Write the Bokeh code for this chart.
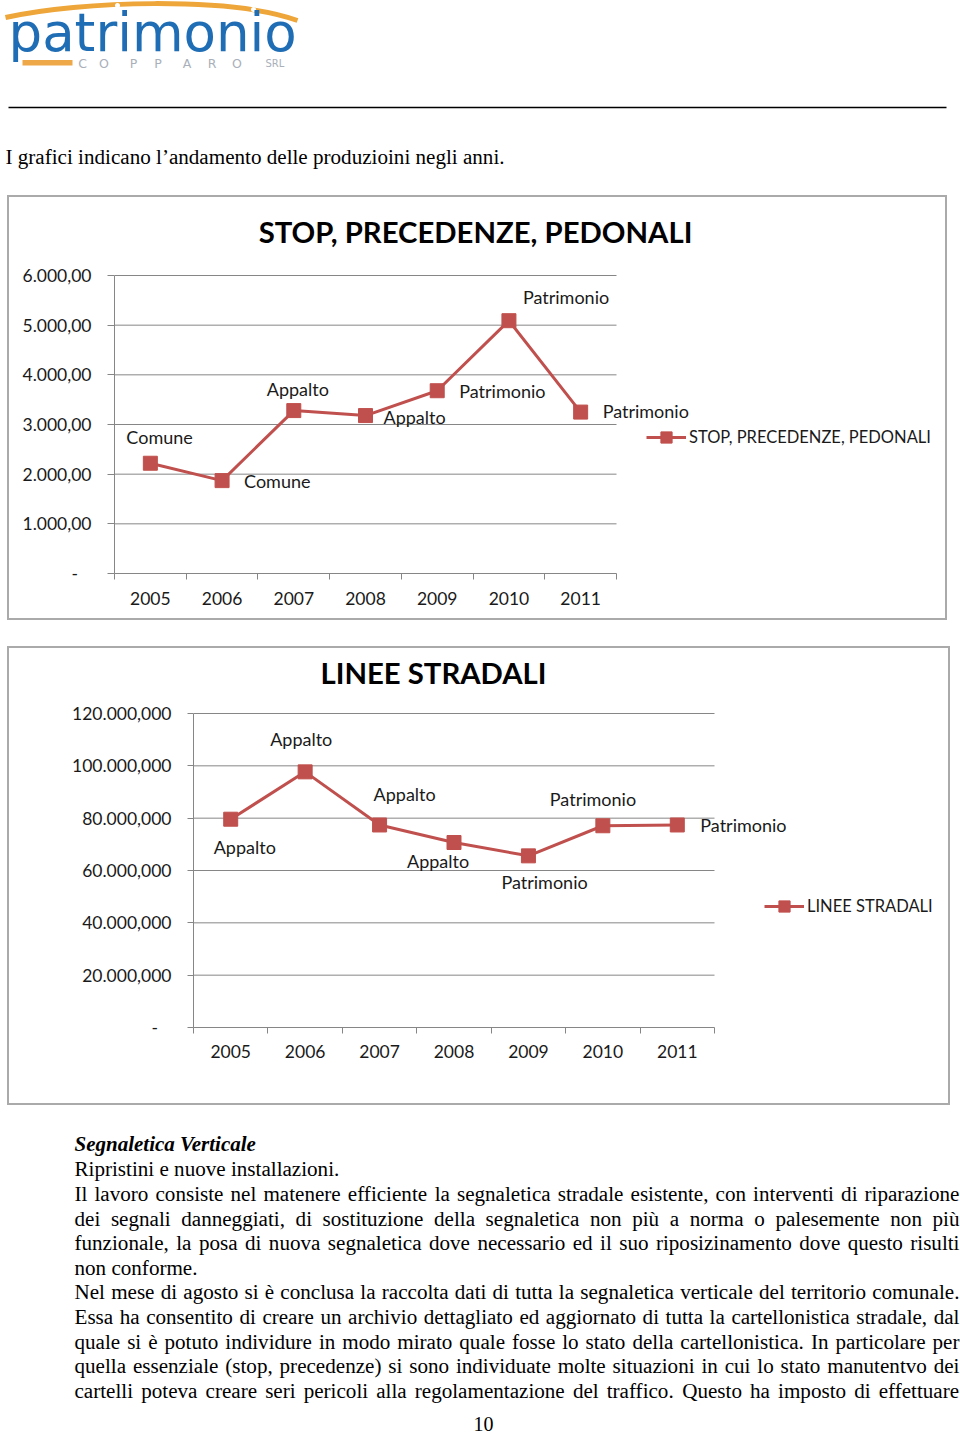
from bokeh.plotting import figure
from bokeh.models import (Range1d, FixedTicker, ColumnDataSource, LabelSet,
                          Legend, LegendItem, Spacer)
from bokeh.layouts import column, row
from bokeh.embed import file_html
from bokeh.resources import INLINE
from bokeh.core.properties import value

# ---------------- data ----------------
years = ["2005", "2006", "2007", "2008", "2009", "2010", "2011"]

stop_title = "STOP, PRECEDENZE, PEDONALI"
stop_values = [2220, 1870, 3280, 3180, 3680, 5090, 3250]
stop_point_labels = ["Comune", "Comune", "Appalto", "Appalto",
                     "Patrimonio", "Patrimonio", "Patrimonio"]
stop_ticks = [0, 1000, 2000, 3000, 4000, 5000, 6000]
stop_tick_labels = ["-\u00a0\u00a0\u00a0", "1.000,00", "2.000,00", "3.000,00",
                    "4.000,00", "5.000,00", "6.000,00"]

linee_title = "LINEE STRADALI"
linee_values = [79.6e6, 97.7e6, 77.4e6, 70.7e6, 65.6e6, 77.1e6, 77.4e6]
linee_point_labels = ["Appalto", "Appalto", "Appalto", "Appalto",
                      "Patrimonio", "Patrimonio", "Patrimonio"]
linee_ticks = [0, 20000000, 40000000, 60000000, 80000000, 100000000, 120000000]
linee_tick_labels = ["-\u00a0\u00a0\u00a0", "20.000,000", "40.000,000", "60.000,000",
                     "80.000,000", "100.000,000", "120.000,000"]

# label placement (screen px, relative to the point; dy positive = down)
stop_lbl_dx = [-24, 22, -27, 18, 22, 14, 22]
stop_lbl_dy = [-19, 7, -15, 8, 7, -17, 6]
linee_lbl_dx = [-17, -35, -6, -47, -27, -53, 23]
linee_lbl_dy = [35, -26, -24, 25, 33, -20, 7]

header_logo = "patrimonio"
header_sub_letters = ["C", "O", "P", "P", "A", "R", "O"]
header_sub_suffix = "SRL"
header_intro = "I  grafici indicano l\u2019andamento delle produzioini negli anni."

body_heading = "Segnaletica Verticale"
body_lines = [
    "Ripristini e nuove installazioni.",
    "Il lavoro consiste nel matenere efficiente la segnaletica stradale esistente, con interventi di riparazione",
    "dei segnali danneggiati, di sostituzione della segnaletica non pi\u00f9 a norma o palesemente non pi\u00f9",
    "funzionale, la posa di nuova segnaletica dove necessario ed il suo riposizinamento dove questo risulti",
    "non conforme.",
    "Nel mese di agosto si \u00e8 conclusa la raccolta dati di tutta la segnaletica verticale del territorio comunale.",
    "Essa ha consentito di creare un archivio dettagliato ed aggiornato di tutta la cartellonistica stradale, dal",
    "quale si \u00e8 potuto individure in modo mirato quale fosse lo stato della cartellonistica. In particolare per",
    "quella essenziale (stop, precedenze) si sono individuate molte situazioni in cui lo stato manutentvo dei",
    "cartelli poteva creare seri pericoli alla regolamentazione del traffico. Questo ha imposto di effettuare",
]
body_justify = [False, True, True, True, False, True, True, True, True, True]
page_number = "10"

RED = "#c0504d"
GRID = "#868686"
TXT = "#1a1a1a"
FONT = "Lato"
SERIF = "Liberation Serif"
BOX = "#aaaaaa"

# Times-compatible advance widths (per 1000 em) for justification
_TW = dict(zip("abcdefghijklmnopqrstuvwxyz",
               [444, 500, 444, 500, 444, 333, 500, 500, 278, 278, 500, 278, 778,
                500, 500, 500, 500, 333, 389, 278, 500, 500, 722, 500, 500, 444]))
_TW.update(dict(zip("ABCDEFGHIJKLMNOPQRSTUVWXYZ",
                    [722, 667, 667, 722, 611, 556, 722, 722, 333, 389, 722, 611, 889,
                     722, 722, 556, 722, 667, 556, 611, 722, 722, 944, 722, 722, 611])))
_TW.update({" ": 250, ",": 250, ".": 250, "(": 333, ")": 333, "-": 333,
            "\u00e8": 444, "\u00f9": 500, "\u2019": 333})


def tw(s, size):
    return sum(_TW.get(c, 500) for c in s) * size / 1000.0


def set_no_align(p):
    try:
        p.frame_align = False
    except Exception:
        pass


def add_texts(p, xs, ys, texts, font, size, color="black", style="normal",
              align="left", dx=0, dy=0):
    src = ColumnDataSource(dict(x=xs, y=ys, text=texts))
    p.add_layout(LabelSet(x="x", y="y", text="text", source=src,
                          x_offset=dx, y_offset=dy,
                          text_font=value(font), text_font_size=f"{size}px",
                          text_font_style=style, text_color=color,
                          text_align=align, text_baseline="alphabetic"))


def blank_fig(w, h, x0, x1, y0, y1):
    p = figure(width=w, height=h, x_range=Range1d(x0, x1), y_range=Range1d(y1, y0),
               x_axis_type=None, y_axis_type=None, output_backend="svg",
               toolbar_location=None, min_border=0, title=None)
    set_no_align(p)
    p.grid.visible = False
    p.outline_line_color = None
    p.background_fill_color = "white"
    p.border_fill_color = "white"
    return p


def bar(w, h):
    return Spacer(width=w, height=h, styles={"background-color": BOX})


def make_chart(fig_w, fig_h, plot_left, plot_w, plot_top, plot_h, values, point_labels,
               ticks, tick_labels, title, title_dx, title_dy, legend_xy, ldx, ldy,
               y_standoff, y_tick_out, x_standoff):
    n = len(years)
    xs = list(range(1, n + 1))
    bottom = fig_h - (plot_top + plot_h)
    frame_w = fig_w - plot_left
    frame_h = fig_h - bottom
    x_end = 0.5 + frame_w * n / plot_w
    y_end = ticks[-1] * frame_h / plot_h
    p = figure(width=fig_w, height=fig_h, x_range=Range1d(0.5, x_end),
               y_range=Range1d(ticks[0], y_end), output_backend="svg",
               toolbar_location=None, min_border_left=plot_left, min_border_right=0,
               min_border_top=0, min_border_bottom=bottom, title=None)
    set_no_align(p)
    p.outline_line_color = None
    p.background_fill_color = "white"
    p.border_fill_color = "white"

    # y axis
    ya = p.yaxis[0]
    ya.ticker = FixedTicker(ticks=ticks, minor_ticks=[])
    ya.bounds = (ticks[0], ticks[-1])
    ya.major_label_overrides = {t: s for t, s in zip(ticks, tick_labels)}
    ya.axis_line_color = GRID
    ya.major_tick_line_color = GRID
    ya.major_tick_in = 0
    ya.major_tick_out = y_tick_out
    ya.minor_tick_line_color = None
    ya.major_label_standoff = y_standoff
    ya.major_label_text_font = FONT
    ya.major_label_text_font_size = "17.5px"
    ya.major_label_text_color = TXT

    # x axis (category boundaries as ticks, labels centred)
    xa = p.xaxis[0]
    xa.ticker = FixedTicker(ticks=xs, minor_ticks=[x - 0.5 for x in xs] + [xs[-1] + 0.5])
    xa.bounds = (0.5, n + 0.5)
    xa.major_label_overrides = {x: y for x, y in zip(xs, years)}
    xa.axis_line_color = GRID
    xa.major_tick_line_color = None
    xa.minor_tick_line_color = GRID
    xa.minor_tick_in = 0
    xa.minor_tick_out = 6
    xa.major_label_standoff = x_standoff
    xa.major_label_text_font = FONT
    xa.major_label_text_font_size = "17.5px"
    xa.major_label_text_color = TXT

    p.xgrid.visible = False
    p.ygrid.visible = False
    gt = ticks[1:]
    p.segment(x0=[0.5] * len(gt), x1=[n + 0.5] * len(gt), y0=gt, y1=gt,
              line_color=GRID, line_width=1)

    src = ColumnDataSource(dict(x=xs, y=values, text=point_labels,
                                dx=ldx, ndy=[-d for d in ldy]))
    line_r = p.line("x", "y", source=src, line_color=RED, line_width=3)
    sq_r = p.scatter("x", "y", source=src, marker="square", size=14,
                     fill_color=RED, line_color=RED)

    p.add_layout(LabelSet(x="x", y="y", text="text", x_offset="dx", y_offset="ndy",
                          source=src, text_font=value(FONT), text_font_size="18px",
                          text_color=TXT, text_align="left",
                          text_baseline="alphabetic"))

    add_texts(p, [0.5], [ticks[-1]], [title], FONT, 29.3, "black", "bold",
              "center", title_dx, title_dy)

    legend = Legend(items=[LegendItem(label=title, renderers=[line_r, sq_r])],
                    location=legend_xy, glyph_width=40, glyph_height=28,
                    label_standoff=3, padding=0, margin=0, spacing=0,
                    border_line_color=None, background_fill_alpha=0,
                    label_text_font=FONT, label_text_font_size="16.5px",
                    label_text_color=TXT)
    p.add_layout(legend)
    return p


# ---------------- header ----------------
hdr = blank_fig(960, 195, 0, 960, 0, 195)
hdr.bezier(x0=[5], y0=[17], x1=[297], y1=[20], cx0=[80], cy0=[0], cx1=[230], cy1=[-4],
           line_color="#eea63a", line_width=5)
hdr.scatter(x=[117, 253], y=[5, 9], size=5, fill_color="white", line_color=None)
add_texts(hdr, [8], [50], [header_logo], "DejaVu Sans", 53, "#1f6db4")
hdr.quad(left=[22], right=[72], top=[59.5], bottom=[65], fill_color="#efa848",
         line_color=None)
add_texts(hdr, [82, 103.5, 133, 157.5, 186.5, 211.5, 236.5], [67] * 7,
          header_sub_letters, "DejaVu Sans", 12.5, "#aab0ba", align="center")
add_texts(hdr, [265], [66.5], [header_sub_suffix], "DejaVu Sans", 10, "#aab0ba")
hdr.segment(x0=[8], y0=[107], x1=[946], y1=[107], line_color="black", line_width=1.5)
add_texts(hdr, [5], [163], [header_intro], SERIF, 21.1)

# ---------------- charts ----------------
c1 = make_chart(936, 421, 105, 502, 78, 298, stop_values, stop_point_labels,
                stop_ticks, stop_tick_labels, stop_title, 361, 33, (532, 122),
                stop_lbl_dx, stop_lbl_dy, 16, 7, 12)
c2 = make_chart(939, 455, 184, 521, 65, 314, linee_values, linee_point_labels,
                linee_ticks, linee_tick_labels, linee_title, 240, 30, (571, 107),
                linee_lbl_dx, linee_lbl_dy, 16, 6, 11)

box1 = row(Spacer(width=7, height=425), bar(2, 425),
           column(bar(936, 2), c1, bar(936, 2), spacing=0),
           bar(2, 425), spacing=0)
box2 = row(Spacer(width=7, height=459), bar(2, 459),
           column(bar(939, 2), c2, bar(939, 2), spacing=0),
           bar(2, 459), spacing=0)

# ---------------- body text ----------------
BODY_SIZE = 21.1
LEFT, RIGHT = 74, 959
body = blank_fig(960, 333, 0, 960, 1105, 1438)
add_texts(body, [LEFT], [1150], [body_heading], SERIF, 21, style="bold italic")
base_y = [1175, 1200, 1225, 1249.5, 1274, 1298.5, 1323.5, 1348.3, 1372.5, 1397.3]
wx, wy, wt = [], [], []
for line, yb, just in zip(body_lines, base_y, body_justify):
    if not just:
        wx.append(LEFT); wy.append(yb); wt.append(line)
        continue
    words = line.split(" ")
    widths = [tw(w, BODY_SIZE) for w in words]
    gap = (RIGHT - LEFT - sum(widths)) / (len(words) - 1)
    x = LEFT
    for w, ww in zip(words, widths):
        wx.append(x); wy.append(yb); wt.append(w)
        x += ww + gap
add_texts(body, wx, wy, wt, SERIF, BODY_SIZE)
add_texts(body, [483], [1430], [page_number], SERIF, 20, align="center")

layout = column(hdr, box1, Spacer(width=960, height=26), box2, body, spacing=0)
open("out.html", "w").write(file_html(layout, INLINE))
